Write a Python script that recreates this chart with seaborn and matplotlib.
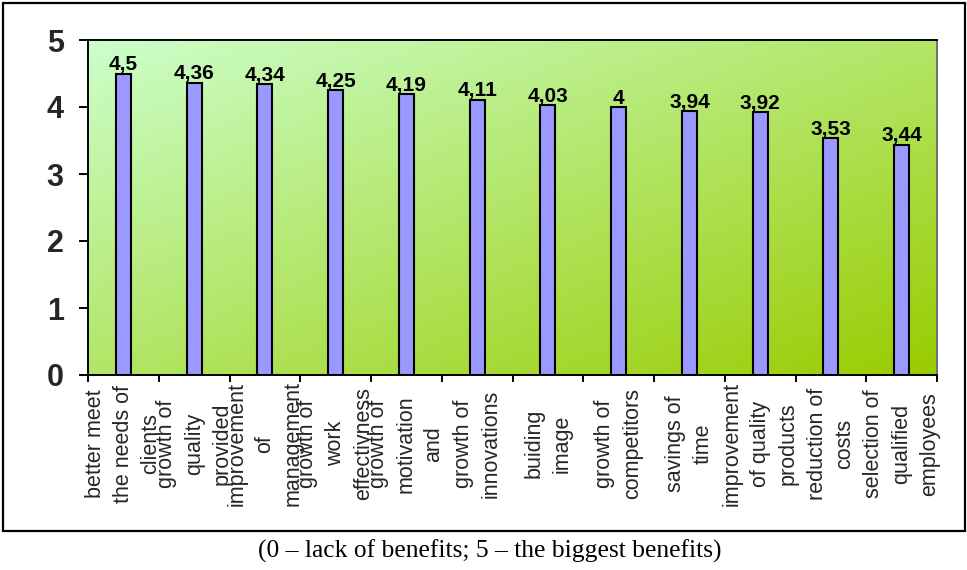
import numpy as np
import pandas as pd
import matplotlib
matplotlib.use("Agg")
import matplotlib.pyplot as plt
from matplotlib.patches import Rectangle
from matplotlib.colors import to_rgb
import seaborn as sns

# Benefit categories (wrapped as they appear on the axis) and mean scores
categories = [
    "better meet\nthe needs of\nclients",
    "growth of\nquality\nprovided",
    "improvement\nof\nmanagement",
    "growth of\nwork\neffectivness",
    "growth of\nmotivation\nand",
    "growth of\ninnovations",
    "buiding\nimage",
    "growth of\ncompetitors",
    "savings of\ntime",
    "improvement\nof quality\nproducts",
    "reduction of\ncosts",
    "selection of\nqualified\nemployees",
]
scores = [4.5, 4.36, 4.34, 4.25, 4.19, 4.11, 4.03, 4.0, 3.94, 3.92, 3.53, 3.44]
y_ticks = [0, 1, 2, 3, 4, 5]
caption = "(0 – lack of benefits; 5 – the biggest benefits)"

df = pd.DataFrame({"benefit": categories, "score": scores})

sns.set_theme(style="ticks")
plt.rcParams["font.family"] = ["Liberation Sans", "DejaVu Sans"]

W, H = 967, 570
fig = plt.figure(figsize=(W / 100, H / 100), dpi=100)
fig.patch.set_facecolor("white")
ax = fig.add_axes([88 / W, 1 - 375 / H, (937 - 88) / W, (375 - 40) / H])

# diagonal gradient fill of the plotting area
c0 = np.array(to_rgb("#CCFFCC"))
c1 = np.array(to_rgb("#99CC00"))
gx, gy = np.meshgrid(np.linspace(0, 1, 300), np.linspace(0, 1, 300))
t = (gx + gy) / 2
grad = c0[None, None, :] * (1 - t[..., None]) + c1[None, None, :] * t[..., None]

sns.barplot(data=df, x="benefit", y="score", color="#9999FF", saturation=1,
            edgecolor="black", linewidth=1.5, width=0.21, ax=ax, zorder=2)
n = len(categories)
ax.imshow(grad, extent=[-0.5, n - 0.5, 0, 5], origin="upper",
          aspect="auto", zorder=0, interpolation="bilinear")
ax.set_xlim(-0.5, n - 0.5)
ax.set_ylim(0, 5)

# value labels above bars
for i, v in enumerate(scores):
    ax.annotate(f"{v:g}".replace(".", ","), (i, v), xytext=(0, 2.5),
                textcoords="offset points", ha="center", va="baseline",
                fontsize=15, fontweight="bold", color="black", zorder=3)

# axes styling
ax.set_xlabel("")
ax.set_ylabel("")
ax.set_yticks(y_ticks)
ax.set_yticklabels([str(v) for v in y_ticks], fontsize=22, fontweight="bold")
ax.tick_params(axis="y", left=True, length=6.5, width=1.4, pad=11, color="black")

ax.set_xticks(range(n))
ax.set_xticks(np.arange(-0.5, n, 1), minor=True)
ax.set_xticklabels(categories)
ax.tick_params(axis="x", which="major", bottom=True, length=0, pad=49.5, labelsize=15.5)
ax.tick_params(axis="x", which="minor", bottom=True, length=5, width=1.4, color="black")
for lbl in ax.get_xticklabels():
    lbl.set_rotation(90)
    lbl.set_ha("center")
    lbl.set_va("center")
    lbl.set_multialignment("center")
    lbl.set_linespacing(1.42)

for side in ["left", "bottom", "top"]:
    ax.spines[side].set_visible(True)
    ax.spines[side].set_color("black")
    ax.spines[side].set_linewidth(1.4)
ax.spines["right"].set_visible(True)
ax.spines["right"].set_color("#707070")
ax.spines["right"].set_linewidth(1.4)

# frame around the chart and caption beneath it
fig.patches.append(Rectangle((2.5 / W, 1 - 530.5 / H), (964.5 - 2.5) / W,
                             (530.5 - 2.5) / H, transform=fig.transFigure,
                             fill=False, edgecolor="black", linewidth=1.6))
fig.text(490 / W, 1 - 551 / H, caption, ha="center", va="center", fontsize=18.4,
         family=["Liberation Serif", "DejaVu Serif"], color="black")

fig.savefig("out.png", dpi=100)
